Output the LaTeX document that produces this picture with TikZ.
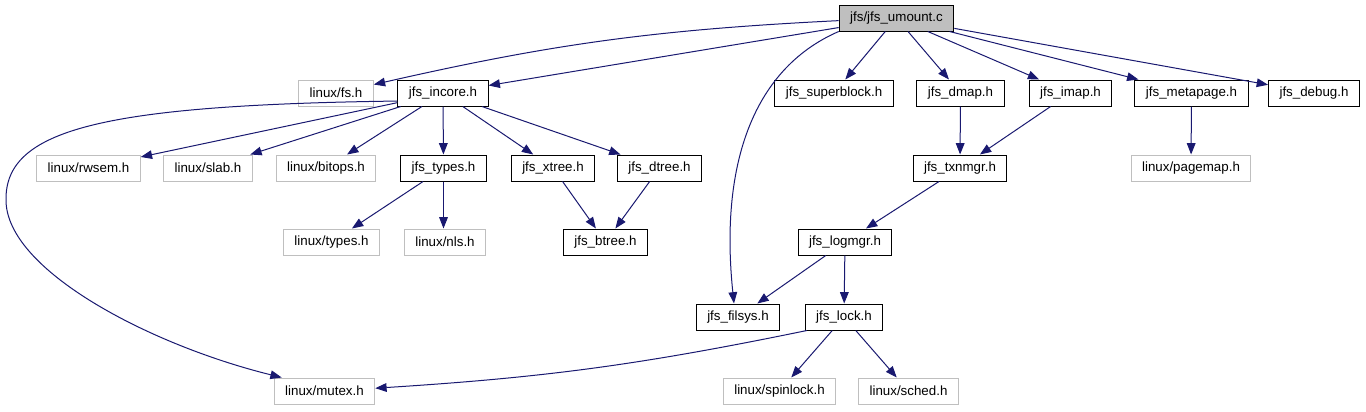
\documentclass[tikz,border=0pt]{standalone}
\usepackage{fontspec}
\setmainfont{Liberation Sans}
\usetikzlibrary{arrows.meta}
\definecolor{edgeblue}{HTML}{191970}
\definecolor{extgray}{HTML}{BFBFBF}

\begin{document}
\begin{tikzpicture}[x=0.75pt, y=-0.75pt,
    box/.style={draw=#1, fill=white, line width=0.75pt, minimum height=19.5pt, inner xsep=8.25pt, inner ysep=0pt, font=\fontsize{10}{12}\selectfont},
    arrow/.style={-{Triangle[length=8.5pt, width=6.5pt]}, line width=0.75pt, color=edgeblue}
]
\useasboundingbox (0,0) rectangle (1366,411);

% row 0
\node[box=black, fill=extgray] (umount) at (896.5, 18) {jfs/jfs\_umount.c};
% row 1
\node[box=extgray] (fs) at (336, 93) {linux/fs.h};
\node[box=black] (incore) at (443, 93) {jfs\_incore.h};
\node[box=black] (superblock) at (834, 93) {jfs\_superblock.h};
\node[box=black] (dmap) at (960.5, 93) {jfs\_dmap.h};
\node[box=black] (imap) at (1070.5, 93) {jfs\_imap.h};
\node[box=black] (metapage) at (1191.5, 93) {jfs\_metapage.h};
\node[box=black] (debug) at (1314, 93) {jfs\_debug.h};
% row 2
\node[box=extgray] (rwsem) at (88.5, 168) {linux/rwsem.h};
\node[box=extgray] (slab) at (208, 168) {linux/slab.h};
\node[box=extgray] (bitops) at (326, 168) {linux/bitops.h};
\node[box=black] (types) at (443.5, 168) {jfs\_types.h};
\node[box=black] (xtree) at (553, 168) {jfs\_xtree.h};
\node[box=black] (dtree) at (659.5, 168) {jfs\_dtree.h};
\node[box=black] (txnmgr) at (960, 168) {jfs\_txnmgr.h};
\node[box=extgray] (pagemap) at (1191, 168) {linux/pagemap.h};
% row 3
\node[box=extgray] (ltypes) at (331.5, 242) {linux/types.h};
\node[box=extgray] (nls) at (445, 242) {linux/nls.h};
\node[box=black] (btree) at (605.5, 242) {jfs\_btree.h};
\node[box=black] (logmgr) at (845, 242) {jfs\_logmgr.h};
% row 4
\node[box=black] (filsys) at (738, 317) {jfs\_filsys.h};
\node[box=black] (lock) at (844, 317) {jfs\_lock.h};
% row 5
\node[box=extgray] (mutex) at (324.5, 391) {linux/mutex.h};
\node[box=extgray] (spinlock) at (779.5, 391) {linux/spinlock.h};
\node[box=extgray] (sched) at (908.5, 391) {linux/sched.h};

% edges
\draw[arrow] (umount) to[bend right=5] (fs);
\draw[arrow] (umount) -- (incore);
\draw[arrow] (umount.south west) .. controls (750,70) and (720,170) .. ([xshift=-3pt]filsys.north);
\draw[arrow] (umount) -- (superblock);
\draw[arrow] (umount) -- (dmap);
\draw[arrow] (umount) -- (imap);
\draw[arrow] (umount) -- (metapage);
\draw[arrow] (umount) -- (debug);

\draw[arrow] (incore) -- (rwsem);
\draw[arrow] (incore) -- (slab);
\draw[arrow] (incore) -- (bitops);
\draw[arrow] (incore) -- (types);
\draw[arrow] (incore) -- (xtree);
\draw[arrow] (incore) -- (dtree);
\draw[arrow] (incore.190) .. controls (100,105) and (5,130) .. (6,200)
    .. controls (6,270) and (150,345) .. ([xshift=6pt]mutex.north west);

\draw[arrow] (types) -- (ltypes);
\draw[arrow] (types.south) -- (types.south |- nls.north);
\draw[arrow] (xtree) -- (btree);
\draw[arrow] (dtree) -- (btree);

\draw[arrow] (dmap) -- (txnmgr);
\draw[arrow] (imap) -- (txnmgr);
\draw[arrow] (metapage) -- (pagemap);
\draw[arrow] (txnmgr) -- (logmgr);
\draw[arrow] (logmgr) -- (filsys);
\draw[arrow] (logmgr) -- (lock);

\draw[arrow] (lock.200) to[bend left=4] (mutex);
\draw[arrow] (lock) -- (spinlock);
\draw[arrow] (lock) -- (sched);
\end{tikzpicture}
\end{document}
